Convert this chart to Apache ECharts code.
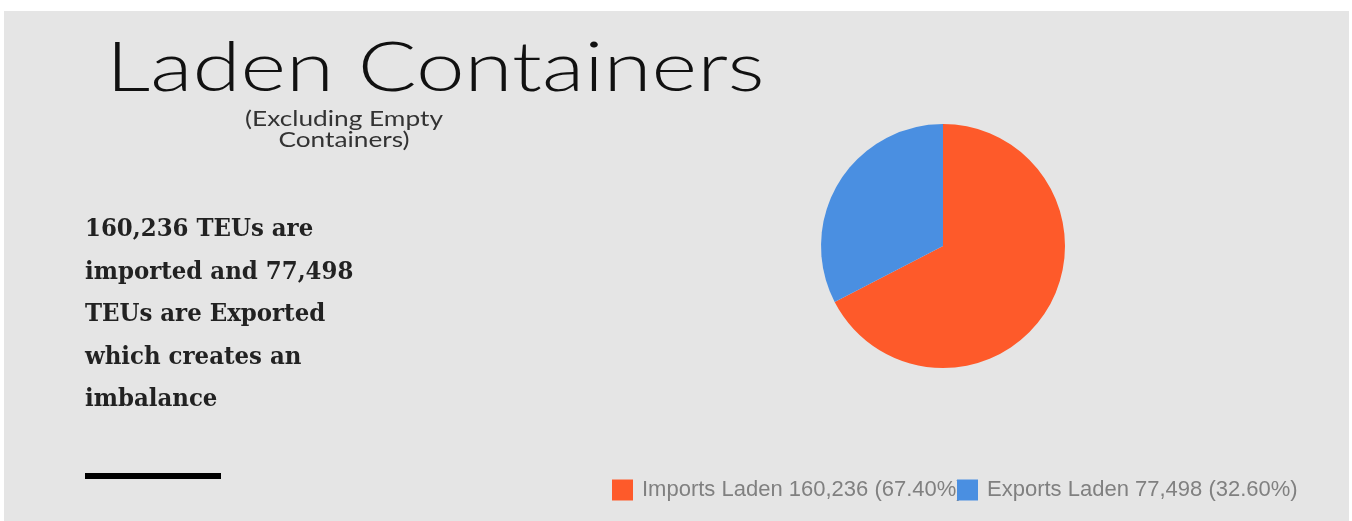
<!DOCTYPE html>
<html>
<head>
<meta charset="utf-8">
<script src="https://cdn.jsdelivr.net/npm/echarts@6/dist/echarts.min.js"></script>
<style>
  html, body { margin: 0; padding: 0; background: #fff; }
  #chart { width: 1352px; height: 521px; }
</style>
</head>
<body>
<div id="chart"></div>
<script>
const categories = ['Imports Laden', 'Exports Laden']
const values = [160236, 77498]
const colors = ['#fe5a2a', '#4a8fe1']
const noteLines = [
  '160,236 TEUs are',
  'imported and 77,498',
  'TEUs are Exported',
  'which creates an',
  'imbalance'
]

const total = values.reduce((a, b) => a + b, 0)
const pct = (v) => (v / total * 100).toFixed(2) + '%'
const fmt = (v) => v.toLocaleString('en-US')

const myChart = echarts.init(document.getElementById('chart'))

// one legend per slice, so the second icon sits over the first label like the original
const legends = categories.map((name, i) => ({
  left: i === 0 ? 607 : 952,
  top: 474,
  itemWidth: 21,
  itemHeight: 21,
  itemGap: 0,
  icon: 'rect',
  data: [name],
  selectedMode: false,
  formatter: (n) => n + ' ' + fmt(values[i]) + ' (' + pct(values[i]) + ')',
  textStyle: { fontFamily: 'Liberation Sans', fontSize: 22, color: '#808080', padding: [0, 0, 0, 4] }
}))

const graphics = [
  { type: 'rect', shape: { x: 4, y: 11, width: 1345, height: 510 }, style: { fill: '#e5e5e5' }, z: -10 },
  { type: 'text', x: 106, y: 34, scaleX: 1.265, style: { text: 'Laden Containers', font: '300 69px Lato', fill: '#111' } },
  { type: 'text', x: 344, y: 109, scaleX: 1.25, style: { text: '(Excluding Empty\nContainers)', font: '21px Lato', fill: '#333', align: 'center', lineHeight: 21 } },
  { type: 'rect', shape: { x: 85, y: 473, width: 136, height: 6 }, style: { fill: '#000' } }
]
noteLines.forEach((t, i) => {
  graphics.push({
    type: 'text', x: 85, y: 218 + i * 42.5, scaleX: 1.06,
    style: { text: t, font: 'bold 24px "DejaVu Serif Condensed"', fill: '#222' }
  })
})

myChart.setOption({
  backgroundColor: '#fff',
  legend: legends,
  graphic: graphics,
  series: [{
    type: 'pie',
    center: [943, 246],
    radius: 122,
    startAngle: 90,
    label: { show: false },
    labelLine: { show: false },
    emphasis: { disabled: true },
    data: categories.map((name, i) => ({ name, value: values[i], itemStyle: { color: colors[i] } }))
  }]
})
</script>
</body>
</html>
